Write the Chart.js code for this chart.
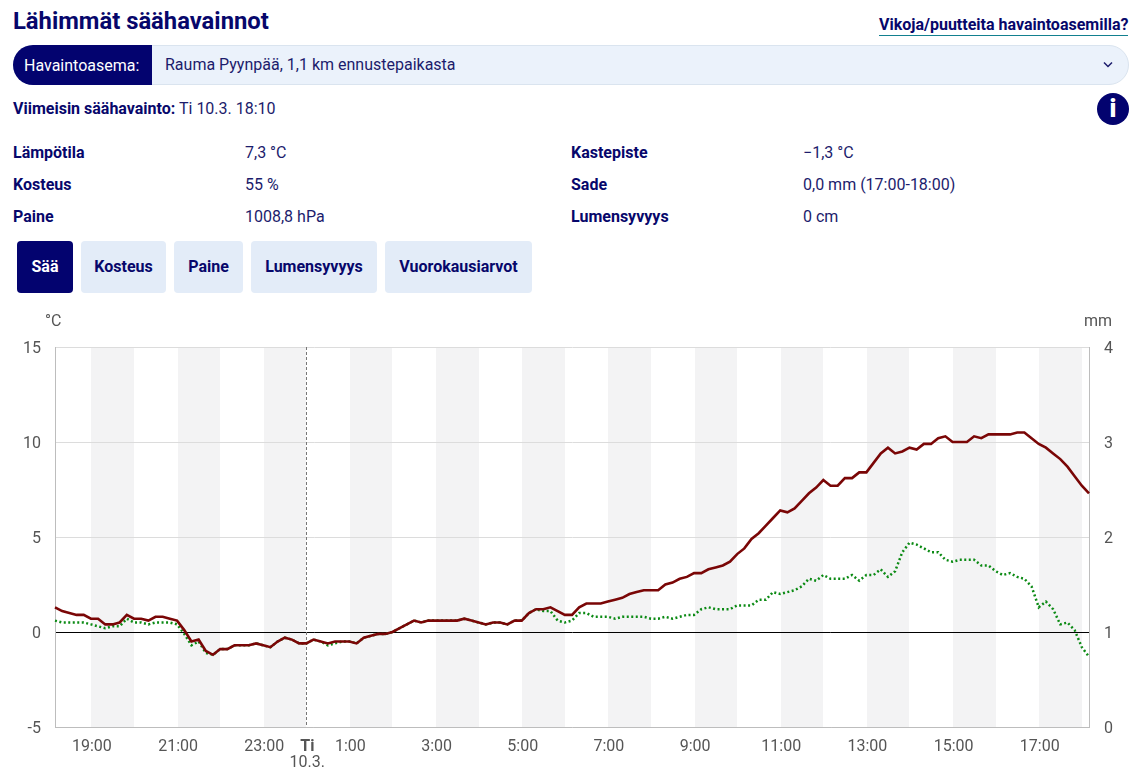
<!DOCTYPE html>
<html lang="fi">
<head>
  <meta charset="UTF-8">
  <title>Lähimmät säähavainnot</title>
  <script src="https://cdn.jsdelivr.net/npm/chart.js"></script>
  <style>
    html, body { margin: 0; padding: 0; background: #fff; }
    body { width: 1141px; height: 769px; position: relative; overflow: hidden; font-family: Roboto, sans-serif; font-size: 16px; color: #1c1c6c; }
    .abs { position: absolute; white-space: nowrap; line-height: 20px; }
    b { color: #07076b; font-weight: 700; }
    h1 { position: absolute; left: 13px; top: 6px; margin: 0; font-size: 23.8px; line-height: 30px; font-weight: 700; color: #07076b; }
    .link { left: 879px; top: 15px; font-weight: 700; color: #07076b; border-bottom: 1px solid #12808f; }
    .select { position: absolute; left: 13px; top: 45px; width: 1114px; height: 38px; background: #ebf2fb; border: 1px solid #dae4ef; border-radius: 20px; }
    .select-label { position: absolute; left: 13px; top: 45px; width: 139px; height: 40px; background: #03036f; color: #fff; border-radius: 20px 0 0 20px; line-height: 42px; text-indent: 11px; }
    .info { position: absolute; left: 1097px; top: 93px; width: 32px; height: 32px; border-radius: 50%; background: #03036f; color: #fff; text-align: center; line-height: 32px; font-size: 25px; font-weight: 900; }
    .btn { position: absolute; top: 241px; height: 52px; line-height: 52px; text-align: center; background: #e3ecf8; border-radius: 4px; font-weight: 700; color: #07076b; }
    .btn.on { background: #03036f; color: #fff; }
    canvas { position: absolute; left: 0; top: 300px; }
  </style>
</head>
<body>
  <h1>Lähimmät säähavainnot</h1>
  <div class="abs link">Vikoja/puutteita havaintoasemilla?</div>
  <div class="select"></div>
  <div class="select-label">Havaintoasema:</div>
  <div class="abs" style="left:165px;top:55px">Rauma Pyynpää, 1,1 km ennustepaikasta</div>
  <svg class="abs" style="left:1102px;top:60px" width="12" height="10" viewBox="0 0 12 10"><path d="M2 2.5 L6 6.5 L10 2.5" fill="none" stroke="#1c1c6c" stroke-width="1.5"/></svg>
  <div class="abs" style="left:13px;top:99px"><b>Viimeisin säähavainto:</b> Ti 10.3. 18:10</div>
  <div class="info">i</div>

  <div class="abs" style="left:13px;top:143px"><b>Lämpötila</b></div>
  <div class="abs" style="left:245px;top:143px">7,3 °C</div>
  <div class="abs" style="left:571px;top:143px"><b>Kastepiste</b></div>
  <div class="abs" style="left:803px;top:143px">−1,3 °C</div>
  <div class="abs" style="left:13px;top:175px"><b>Kosteus</b></div>
  <div class="abs" style="left:245px;top:175px">55 %</div>
  <div class="abs" style="left:571px;top:175px"><b>Sade</b></div>
  <div class="abs" style="left:803px;top:175px">0,0 mm (17:00-18:00)</div>
  <div class="abs" style="left:13px;top:207px"><b>Paine</b></div>
  <div class="abs" style="left:245px;top:207px">1008,8 hPa</div>
  <div class="abs" style="left:571px;top:207px"><b>Lumensyvyys</b></div>
  <div class="abs" style="left:803px;top:207px">0 cm</div>

  <div class="btn on" style="left:17px;width:56px">Sää</div>
  <div class="btn" style="left:81px;width:85px">Kosteus</div>
  <div class="btn" style="left:174px;width:69px">Paine</div>
  <div class="btn" style="left:251px;width:126px">Lumensyvyys</div>
  <div class="btn" style="left:385px;width:147px">Vuorokausiarvot</div>

  <canvas id="saaChart" width="1141" height="469"></canvas>

  <script>
    // 10 min havainnot 18:10 -> 18:10
    const times = [];
    for (let i = 0; i <= 144; i++) {
      const m = (18 * 60 + 10 + i * 10) % 1440;
      times.push(Math.floor(m / 60) + ':' + String(m % 60).padStart(2, '0'));
    }
    const tickTimes = ['19:00', '21:00', '23:00', '0:00', '1:00', '3:00', '5:00', '7:00', '9:00', '11:00', '13:00', '15:00', '17:00'];
    const shadedHours = ['19:00', '21:00', '23:00', '1:00', '3:00', '5:00', '7:00', '9:00', '11:00', '13:00', '15:00', '17:00'];
    const dateTime = '0:00';
    const dayName = 'Ti';
    const dateLabel = '10.3.';

    const temperature = [
      1.3, 1.1, 1.0, 0.9, 0.9, 0.7, 0.7, 0.4, 0.4, 0.5, 0.9, 0.7,
      0.7, 0.6, 0.8, 0.8, 0.7, 0.6, 0.1, -0.5, -0.4, -1.0, -1.2, -0.9,
      -0.9, -0.7, -0.7, -0.7, -0.6, -0.7, -0.8, -0.5, -0.3, -0.4, -0.6, -0.6,
      -0.4, -0.5, -0.6, -0.5, -0.5, -0.5, -0.6, -0.3, -0.2, -0.1, -0.1, 0.0,
      0.2, 0.4, 0.6, 0.5, 0.6, 0.6, 0.6, 0.6, 0.6, 0.7, 0.6, 0.5,
      0.4, 0.5, 0.5, 0.4, 0.6, 0.6, 1.0, 1.2, 1.2, 1.3, 1.1, 0.9,
      0.9, 1.3, 1.5, 1.5, 1.5, 1.6, 1.7, 1.8, 2.0, 2.1, 2.2, 2.2,
      2.2, 2.5, 2.6, 2.8, 2.9, 3.1, 3.1, 3.3, 3.4, 3.5, 3.7, 4.1,
      4.4, 4.9, 5.2, 5.6, 6.0, 6.4, 6.3, 6.5, 6.9, 7.3, 7.6, 8.0,
      7.7, 7.7, 8.1, 8.1, 8.4, 8.4, 8.9, 9.4, 9.7, 9.4, 9.5, 9.7,
      9.6, 9.9, 9.9, 10.2, 10.3, 10.0, 10.0, 10.0, 10.3, 10.2, 10.4, 10.4,
      10.4, 10.4, 10.5, 10.5, 10.2, 9.9, 9.7, 9.4, 9.1, 8.7, 8.2, 7.7,
      7.3
    ];
    const dewPoint = [
      0.6, 0.5, 0.5, 0.5, 0.5, 0.4, 0.3, 0.2, 0.3, 0.3, 0.7, 0.5,
      0.5, 0.4, 0.5, 0.5, 0.5, 0.4, -0.1, -0.7, -0.5, -1.1, -1.2, -0.9,
      -0.9, -0.7, -0.7, -0.7, -0.6, -0.7, -0.8, -0.5, -0.3, -0.4, -0.6, -0.6,
      -0.4, -0.5, -0.7, -0.6, -0.5, -0.5, -0.6, -0.3, -0.2, -0.1, -0.1, 0.0,
      0.2, 0.4, 0.6, 0.5, 0.6, 0.6, 0.6, 0.6, 0.6, 0.7, 0.6, 0.5,
      0.4, 0.5, 0.5, 0.4, 0.6, 0.6, 1.0, 1.2, 1.1, 1.1, 0.6, 0.5,
      0.6, 1.0, 1.0, 0.8, 0.8, 0.8, 0.7, 0.8, 0.8, 0.8, 0.8, 0.7,
      0.7, 0.8, 0.7, 0.8, 0.9, 0.9, 1.2, 1.3, 1.2, 1.2, 1.2, 1.4,
      1.4, 1.4, 1.7, 1.7, 2.1, 2.0, 2.1, 2.2, 2.4, 2.8, 2.7, 3.0,
      2.8, 2.8, 2.8, 3.0, 2.7, 3.0, 3.0, 3.3, 2.9, 3.2, 4.2, 4.7,
      4.6, 4.4, 4.2, 4.2, 3.8, 3.7, 3.8, 3.8, 3.8, 3.5, 3.5, 3.2,
      3.0, 3.1, 2.9, 2.8, 2.4, 1.3, 1.6, 1.2, 0.4, 0.5, 0.1, -0.8,
      -1.3
    ];
    const tempTicks = [-5, 0, 5, 10, 15];
    const rainTicks = [0, 1, 2, 3, 4];
    const tempUnit = '°C';
    const rainUnit = 'mm';

    // harmaat tuntipalkit, päivänvaihdon katkoviiva, yksiköt ja päivämäärä
    const decorPlugin = {
      id: 'decor',
      beforeDraw(chart) {
        const { ctx, chartArea, scales } = chart;
        ctx.save();
        ctx.fillStyle = '#f3f3f4';
        shadedHours.forEach(h => {
          const start = times.indexOf(h);
          const x0 = Math.ceil(scales.x.getPixelForValue(start));
          const x1 = Math.round(scales.x.getPixelForValue(start + 6));
          ctx.fillRect(x0, chartArea.top, x1 - x0, chartArea.height);
        });
        ctx.restore();
      },
      beforeDatasetsDraw(chart) {
        const { ctx, chartArea, scales } = chart;
        const x = Math.round(scales.x.getPixelForValue(times.indexOf(dateTime))) + 0.5;
        ctx.save();
        ctx.strokeStyle = '#777';
        ctx.lineWidth = 1;
        ctx.setLineDash([3, 2]);
        ctx.beginPath();
        ctx.moveTo(x, chartArea.top);
        ctx.lineTo(x, chartArea.bottom);
        ctx.stroke();
        ctx.restore();
      },
      afterDraw(chart) {
        const { ctx, chartArea, scales } = chart;
        ctx.save();
        ctx.font = '16px Roboto';
        ctx.fillStyle = '#555';
        ctx.textBaseline = 'middle';
        ctx.textAlign = 'left';
        ctx.fillText(tempUnit, 45, 22);
        ctx.fillText(rainUnit, 1084, 22);
        ctx.textAlign = 'center';
        ctx.fillText(dateLabel, scales.x.getPixelForValue(times.indexOf(dateTime)) + 1, chartArea.bottom + 36);
        ctx.restore();
      }
    };

    new Chart(document.getElementById('saaChart'), {
      type: 'line',
      data: {
        labels: times,
        datasets: [
          {
            label: 'Lämpötila',
            data: temperature,
            borderColor: '#7a0606',
            borderWidth: 2.6,
            pointRadius: 0,
            tension: 0,
            order: 1
          },
          {
            label: 'Kastepiste',
            data: dewPoint,
            borderColor: '#0b8a14',
            borderWidth: 2.5,
            borderDash: [2, 2.5],
            pointRadius: 0,
            tension: 0,
            order: 2
          }
        ]
      },
      plugins: [decorPlugin],
      options: {
        responsive: false,
        animation: false,
        layout: { padding: { top: 47, left: 0, right: 0, bottom: 0 } },
        plugins: { legend: { display: false }, title: { display: false }, tooltip: { enabled: false } },
        scales: {
          x: {
            type: 'category',
            grid: { display: false, drawTicks: false },
            border: { display: true, color: '#bdbdbd' },
            afterFit: s => { s.height = 42; },
            ticks: {
              autoSkip: false,
              maxRotation: 0,
              minRotation: 0,
              padding: 10,
              labelOffset: 1,
              color: '#555',
              font: c => ({ family: 'Roboto', size: 16, weight: c.tick && c.tick.label === dayName ? '700' : '400' }),
              callback(value) {
                const t = times[value];
                if (t === dateTime) return dayName;
                return tickTimes.includes(t) ? t : '';
              }
            }
          },
          y: {
            min: -5,
            max: 15,
            afterBuildTicks: s => { s.ticks = tempTicks.map(v => ({ value: v })); },
            afterFit: s => { s.width = 55; },
            grid: {
              color: c => c.tick && c.tick.value === 0 ? '#000' : '#dcdcdc',
              drawTicks: false
            },
            border: { display: true, color: '#bdbdbd' },
            ticks: { color: '#555', padding: 14, labelOffset: 2, font: { family: 'Roboto', size: 16 } }
          },
          y1: {
            position: 'right',
            min: 0,
            max: 4,
            afterBuildTicks: s => { s.ticks = rainTicks.map(v => ({ value: v })); },
            afterFit: s => { s.width = 52; },
            grid: { display: false, drawTicks: false },
            border: { display: true, color: '#bdbdbd' },
            ticks: { color: '#555', padding: 15, labelOffset: 2, font: { family: 'Roboto', size: 16 } }
          }
        }
      }
    });
  </script>
</body>
</html>
